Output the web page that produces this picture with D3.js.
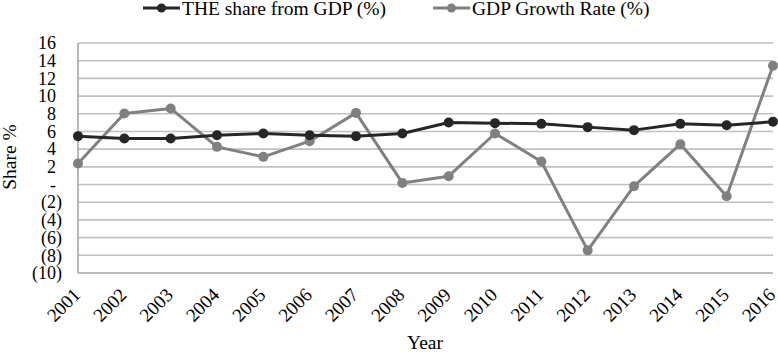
<!DOCTYPE html>
<html>
<head>
<meta charset="utf-8">
<script src="https://cdn.jsdelivr.net/npm/d3@7"></script>
<style>
  body { margin: 0; background: #fff; }
  text { font-family: "Liberation Serif", "Times New Roman", serif; fill: #000; }
</style>
</head>
<body>
<svg id="chart" width="778" height="352"></svg>
<script>
const years = ['2001', '2002', '2003', '2004', '2005', '2006', '2007', '2008',
               '2009', '2010', '2011', '2012', '2013', '2014', '2015', '2016'];
const theShare = [5.47, 5.2, 5.2, 5.58, 5.77, 5.58, 5.47, 5.77,
                  7.02, 6.94, 6.86, 6.49, 6.15, 6.86, 6.71, 7.09];
const gdpGrowth = [2.38, 8.04, 8.6, 4.26, 3.13, 4.9, 8.1, 0.18,
                   0.94, 5.77, 2.6, -7.44, -0.19, 4.56, -1.33, 13.43];
const yTicks = [16, 14, 12, 10, 8, 6, 4, 2, 0, -2, -4, -6, -8, -10];

const series = [
  { name: 'THE share from GDP (%)', values: theShare, color: '#262626' },
  { name: 'GDP Growth Rate (%)', values: gdpGrowth, color: '#808080' }
];

const margin = { top: 43, right: 5, bottom: 79, left: 78 };
const width = 778, height = 352;
const svg = d3.select('#chart');

const x = d3.scalePoint().domain(years).range([margin.left, width - margin.right]);
const y = d3.scaleLinear().domain([-10, 16]).range([height - margin.bottom, margin.top]);

// gridlines
svg.append('g')
  .selectAll('line')
  .data(yTicks)
  .enter().append('line')
  .attr('x1', margin.left).attr('x2', width - margin.right)
  .attr('y1', d => y(d)).attr('y2', d => y(d))
  .attr('stroke', d => d === -10 ? '#a6a6a6' : '#c0c0c0')
  .attr('stroke-width', 1.6);

// left axis line
svg.append('line')
  .attr('x1', margin.left).attr('x2', margin.left)
  .attr('y1', y(16)).attr('y2', y(-10))
  .attr('stroke', '#a6a6a6').attr('stroke-width', 1.6);

// accounting-style labels: 0 -> "-", negatives in brackets, positives padded for ")"
const fmt = d => d === 0 ? '-' : d < 0 ? `(${-d})` : `${d}`;
const yAxis = svg.append('g')
  .attr('transform', `translate(${margin.left - 16},0)`)
  .call(d3.axisLeft(y).tickValues(yTicks).tickFormat(fmt).tickSize(0).tickPadding(0));
yAxis.select('.domain').remove();
yAxis.selectAll('text')
  .style('font-family', '"Liberation Serif", serif')
  .style('font-size', '18px')
  .attr('fill', '#000')
  .attr('x', d => d < 0 ? 0 : -6)
  .attr('dy', '0.32em');

const xAxis = svg.append('g')
  .attr('transform', `translate(0,${height - margin.bottom})`)
  .call(d3.axisBottom(x).tickSize(0).tickPadding(0));
xAxis.select('.domain').remove();
xAxis.selectAll('text')
  .style('font-family', '"Liberation Serif", serif')
  .style('font-size', '19px')
  .attr('fill', '#000')
  .attr('text-anchor', 'end')
  .attr('dy', null)
  .attr('y', 0)
  .attr('transform', 'translate(3,23) rotate(-45)');

// lines and markers
const line = d3.line()
  .x((d, i) => x(years[i]))
  .y(d => y(d));

series.slice().reverse().forEach(s => {
  svg.append('path')
    .datum(s.values)
    .attr('fill', 'none')
    .attr('stroke', s.color)
    .attr('stroke-width', 3)
    .attr('stroke-linejoin', 'round')
    .attr('d', line);
  svg.append('g')
    .selectAll('circle')
    .data(s.values)
    .enter().append('circle')
    .attr('cx', (d, i) => x(years[i]))
    .attr('cy', d => y(d))
    .attr('r', 5)
    .attr('fill', s.color);
});

// legend
const legendPos = [143, 433];
series.forEach((s, i) => {
  const g = svg.append('g').attr('transform', `translate(${legendPos[i]},8)`);
  g.append('line')
    .attr('x1', 0).attr('x2', 37)
    .attr('stroke', s.color).attr('stroke-width', 3);
  g.append('circle').attr('cx', 18.5).attr('cy', 0).attr('r', 4.5).attr('fill', s.color);
  g.append('text')
    .attr('x', 39).attr('y', 7)
    .style('font-size', '19.5px')
    .text(s.name);
});

// axis titles
svg.append('text')
  .attr('transform', `translate(16,157) rotate(-90)`)
  .attr('text-anchor', 'middle')
  .style('font-size', '19.5px')
  .text('Share %');

svg.append('text')
  .attr('x', 425).attr('y', 349)
  .attr('text-anchor', 'middle')
  .style('font-size', '19.5px')
  .text('Year');
</script>
</body>
</html>
